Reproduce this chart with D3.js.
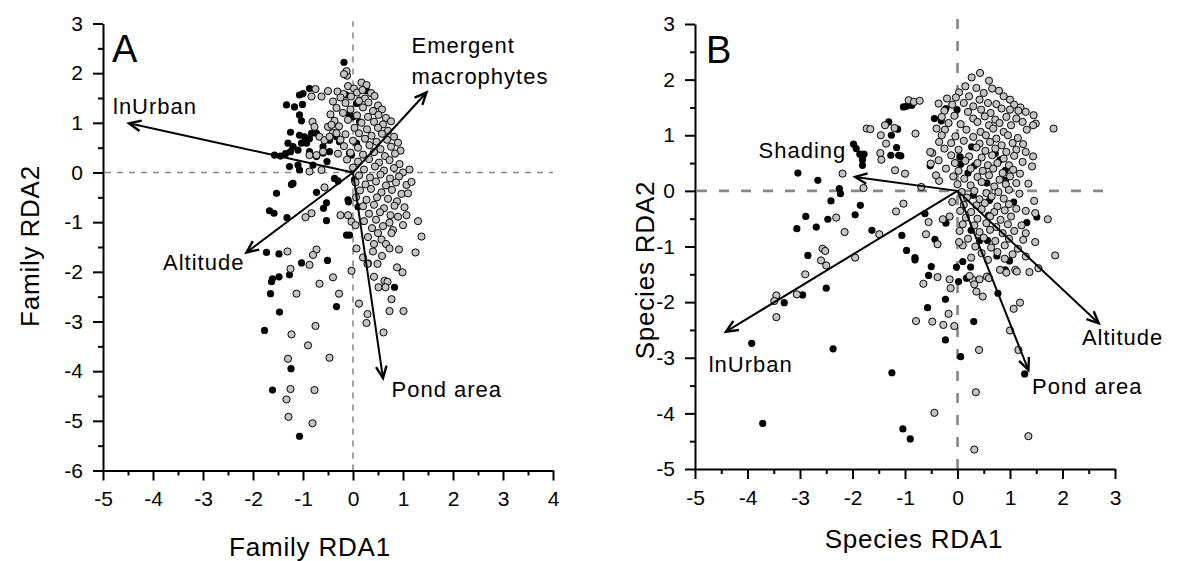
<!DOCTYPE html>
<html>
<head>
<meta charset="utf-8">
<script src="https://cdnjs.cloudflare.com/ajax/libs/d3/7.8.5/d3.min.js"></script>
<style>
  body { margin: 0; background: #fff; }
  svg text { font-family: 'Liberation Sans', Arial, sans-serif; fill: #000; }
</style>
</head>
<body>
<script>
// ---- panel A : family RDA scores ----
const famGray = [
  [-0.12,1.95],[0.17,1.81],[-0.13,2.04],[-0.18,1.98],
  [-0.1,1.74],[0.02,1.69],[0.27,1.76],[-0.31,1.63],[-0.19,1.58],[0.08,1.61],[0.19,1.66],[0.36,1.6],
  [-0.25,1.51],[-0.04,1.53],[0.24,1.49],[0.43,1.54],[-0.4,1.43],[-0.15,1.4],[0.12,1.44],[0.31,1.41],[0.5,1.35],
  [-0.33,1.3],[-0.05,1.27],[0.2,1.31],[0.4,1.24],[0.58,1.27],[-0.45,1.17],[-0.2,1.2],[0.08,1.15],[0.3,1.12],[0.51,1.16],[0.66,1.1],
  [-0.37,1.04],[-0.1,1.06],[0.17,1.0],[0.42,1.02],[0.6,0.97],[0.76,1.03],[-0.28,0.93],[0.03,0.9],[0.28,0.87],[0.5,0.9],[0.7,0.84],
  [-0.4,0.8],[-0.15,0.77],[0.12,0.79],[0.37,0.74],[0.58,0.78],[0.82,0.72],[-0.25,0.66],[0.0,0.64],[0.24,0.68],[0.47,0.62],[0.68,0.66],[0.9,0.6],
  [-0.18,0.53],[0.1,0.5],[0.33,0.55],[0.55,0.47],[0.76,0.52],[0.95,0.44],[-0.3,0.38],[-0.05,0.4],[0.2,0.36],[0.42,0.41],[0.64,0.33],[0.84,0.38],
  [-0.12,0.26],[0.1,0.22],[0.32,0.27],[0.52,0.2],[0.73,0.25],[0.93,0.17],[0.0,0.1],[0.22,0.06],[0.44,0.12],[0.62,0.04],[0.82,0.09],[1.13,0.06],[1.0,0.0],
  [0.12,-0.06],[0.34,-0.1],[0.55,-0.04],[0.74,-0.12],[0.92,-0.08],[0.05,-0.2],[0.25,-0.24],[0.46,-0.18],[0.66,-0.26],[0.86,-0.2],[1.07,-0.25],[1.17,-0.19],
  [0.14,-0.36],[0.36,-0.33],[0.57,-0.4],[0.78,-0.35],[0.97,-0.43],[1.1,-0.42],[0.06,-0.5],[0.27,-0.55],[0.48,-0.5],[0.7,-0.53],[0.88,-0.58],
  [0.2,-0.68],[0.42,-0.65],[0.62,-0.72],[0.83,-0.67],[1.03,-0.7],[0.32,-0.83],[0.54,-0.8],[0.75,-0.86],[1.07,-0.86],[0.9,-0.89],[1.3,-0.98],
  [0.22,-0.98],[0.46,-0.95],[0.73,-1.01],[1.0,-1.06],[0.38,-1.12],[0.6,-1.08],[0.8,-1.16],[0.5,-1.22],[0.77,-1.22],[1.37,-1.29],
  [0.3,-1.3],[0.57,-1.35],[0.42,-1.44],[0.66,-1.44],
  [-0.75,1.68],[-0.83,1.53],[-0.63,1.53],[-0.5,1.64],
  [-0.81,1.02],[-0.77,0.92],[-0.5,0.92],[-0.43,0.96],[-0.33,0.79],
  [-0.67,0.72],[-0.57,0.65],[-0.47,0.72],[-0.87,0.35],[-0.73,0.35],[-0.6,0.42],
  [-0.87,0.02],[-0.63,0.05],[-0.57,-0.3],
  [-0.95,-0.9],[-0.83,-0.82],[-0.25,-0.86],[-0.1,-0.86],[-0.03,-0.99],[0.05,-1.06],
  [-0.73,-1.55],[-0.8,-1.66],[-0.87,-1.86],[-1.31,-1.59],[-1.25,-1.94],[-0.03,-1.98],
  [0.07,-1.53],[0.2,-1.71],[0.3,-1.83],[0.4,-1.59],[0.58,-1.68],[0.73,-1.53],[0.92,-1.55],[1.25,-1.61],
  [0.29,-1.84],[0.49,-1.84],[0.42,-2.1],[0.51,-2.31],[0.63,-2.18],[0.69,-2.2],[0.65,-2.31],
  [0.88,-1.91],[0.99,-2.01],[0.77,-2.55],[0.73,-2.79],[1.01,-2.79],[0.12,-2.64],
  [0.29,-2.85],[0.27,-3.03],[0.61,-3.22],
  [-1.13,-2.44],[-0.67,-2.24],[-0.4,-2.11],[-0.28,-2.44],
  [-1.23,-3.26],[-0.75,-3.09],[-0.9,-3.48],[-1.3,-3.75],[-0.47,-3.73],
  [-1.25,-4.36],[-0.77,-4.38],[-1.33,-4.57],[-1.29,-4.92],[-0.81,-5.05]
];
const famBlack = [
  [-0.18,2.22],[-0.87,1.69],[-1.0,1.59],[-1.07,1.56],[-1.33,1.36],[-1.17,1.32],[-1.01,1.37],
  [-1.07,1.16],[-1.03,1.04],[-1.25,0.81],[-1.07,0.75],[-0.97,0.72],[-0.83,0.79],
  [-0.87,0.68],[-0.93,0.59],[-0.73,0.79],[-0.6,0.52],[-0.47,0.65],[-0.47,0.42],
  [-1.3,0.59],[-1.2,0.52],[-1.03,0.59],[-1.1,0.45],[-0.87,0.42],[-0.73,0.32],[-0.6,0.39],
  [-1.57,0.35],[-1.45,0.33],[-1.35,0.38],[-1.25,0.42],
  [-1.27,0.12],[-1.07,0.05],[-1.1,0.15],[-0.8,0.15],[-0.52,0.22],
  [-1.2,-0.22],[-0.37,-0.12],[-0.3,-0.17],
  [-0.13,1.56],[0.27,1.65],[0.13,1.46],[0.07,1.39],[0.0,1.12],[-0.07,1.16],[0.13,1.02],
  [-0.33,0.72],[-0.27,0.62],[-0.07,0.39],[-0.03,0.35],[0.07,0.59],[0.03,-0.15],
  [-0.1,-0.55],[0.1,-0.69],[-0.07,-1.26],[-0.13,-1.26],
  [-1.23,-0.24],[-1.53,-0.42],[-0.73,-0.4],[-0.53,-0.61],[-0.59,-0.72],[-1.67,-0.77],
  [-1.58,-0.82],[-1.32,-0.91],[-0.53,-0.97],[-0.09,-0.59],[-1.73,-1.61],[-1.48,-1.64],
  [-1.03,-1.82],[-0.51,-1.77],[-1.61,-2.14],[-1.63,-2.2],[-1.48,-2.1],[-1.27,-2.06],
  [-1.65,-2.44],[0.83,-2.31],[-1.47,-2.81],[-0.33,-2.7],[-1.77,-3.18],[-1.24,-3.95],
  [-1.61,-4.38],[-1.07,-5.31]
];
const famVars = ['lnUrban', 'Emergent macrophytes', 'Altitude', 'Pond area'];
const famArrows = [[-4.48,0.99],[1.47,1.61],[-2.13,-1.61],[0.6,-4.14]];

// ---- panel B : species RDA scores ----
const specGray = [
  [0.43,2.12],[0.27,2.04],[0.6,1.98],[0.15,1.88],[0.36,1.85],[0.66,1.84],[0.79,1.8],[0.03,1.77],[0.5,1.76],[0.88,1.7],
  [-0.2,1.66],[-0.03,1.68],[0.22,1.7],[0.42,1.64],[1.0,1.64],[-0.36,1.57],[-0.1,1.55],[0.12,1.58],[0.3,1.52],[0.58,1.58],[0.74,1.56],[1.08,1.55],[1.2,1.5],
  [-0.25,1.44],[0.2,1.42],[0.45,1.46],[0.63,1.4],[0.84,1.48],[1.0,1.46],[1.16,1.44],[1.3,1.42],
  [-0.3,1.33],[-0.06,1.35],[0.3,1.3],[0.52,1.34],[0.72,1.28],[0.93,1.33],[1.12,1.3],[1.45,1.36],
  [-0.17,1.22],[0.06,1.2],[0.38,1.24],[0.6,1.18],[0.8,1.22],[1.02,1.18],[1.24,1.24],[1.49,1.21],
  [-0.4,1.12],[-0.24,1.1],[0.17,1.1],[0.44,1.06],[0.68,1.12],[0.88,1.06],[1.32,1.1],[1.44,1.18],
  [-0.3,1.0],[-0.04,0.98],[0.3,0.97],[0.54,1.0],[0.74,0.94],[0.96,1.0],[1.15,0.95],
  [-0.35,0.88],[-0.12,0.86],[0.12,0.9],[0.42,0.85],[0.62,0.88],[0.84,0.82],[1.05,0.86],[1.25,0.84],
  [-0.25,0.76],[0.02,0.74],[0.36,0.78],[0.53,0.72],[0.72,0.76],[0.93,0.7],[1.12,0.74],[1.3,0.7],
  [-0.48,0.68],[-0.12,0.64],[0.22,0.62],[0.46,0.6],[0.66,0.64],[0.88,0.58],[1.08,0.63],[1.44,0.62],
  [-0.36,0.55],[-0.05,0.5],[0.15,0.54],[0.38,0.5],[0.58,0.46],[0.76,0.5],[0.98,0.46],[1.24,0.52],
  [-0.22,0.4],[0.02,0.36],[0.25,0.4],[0.48,0.36],[0.68,0.4],[0.86,0.32],[1.06,0.38],[1.42,0.44],
  [-0.08,0.26],[0.13,0.22],[0.38,0.25],[0.6,0.28],[0.8,0.2],[1.0,0.26],[1.19,0.31],
  [-0.35,0.18],[0.0,0.12],[0.25,0.1],[0.46,0.16],[0.7,0.08],[0.92,0.12],[1.12,0.14],[1.35,0.13],
  [0.08,-0.02],[0.32,0.0],[0.55,-0.04],[0.78,-0.02],[0.98,0.02],[1.18,-0.05],
  [0.18,-0.12],[0.42,-0.15],[0.65,-0.1],[0.88,-0.14],[1.46,-0.18],[-0.1,-0.2],[0.12,-0.25],[0.36,-0.26],[0.52,-0.22],[0.76,-0.28],[0.98,-0.24],
  [0.05,-0.36],[0.26,-0.38],[0.46,-0.33],[0.7,-0.38],[0.9,-0.35],[1.12,-0.32],[1.3,-0.36],
  [-0.15,-0.46],[0.16,-0.48],[0.38,-0.5],[0.62,-0.46],[0.82,-0.52],[1.02,-0.46],[1.48,-0.4],
  [0.1,-0.6],[0.32,-0.62],[0.55,-0.58],[0.74,-0.65],[0.96,-0.6],[1.22,-0.62],[1.72,-0.51],
  [0.04,-0.72],[0.42,-0.74],[0.62,-0.7],[0.86,-0.76],[1.08,-0.72],[1.3,-0.76],
  [0.2,-0.86],[0.5,-0.84],[0.72,-0.9],[0.98,-0.86],[1.25,-0.88],
  [0.1,-0.98],[0.34,-1.0],[0.64,-1.02],[0.9,-0.98],[1.15,-1.04],[1.48,-0.92],
  [0.46,-1.12],[0.76,-1.1],[1.05,-1.14],[0.26,-1.2],[0.58,-1.24],[0.9,-1.22],[1.3,-1.18],
  [-2.19,0.31],[-1.79,0.05],[-2.31,-0.48],[-2.15,-0.74],[-1.49,-0.78],[-2.57,-1.04],[-2.52,-1.08],
  [-2.6,-1.25],[-2.5,-1.34],[-1.95,-1.2],[-2.9,-1.5],[-1.17,-0.37],[-1.03,-0.23],[-0.69,0.07],
  [-0.55,-0.56],[-0.38,-0.96],[-0.28,-0.51],[-0.6,-0.78],[0.03,-0.92],
  [-1.73,1.12],[-1.66,1.11],[-1.47,0.68],[-1.45,0.56],[-1.46,1.0],[-1.36,0.85],[-1.2,1.13],
  [-1.38,1.18],[-1.19,0.37],[-1.0,0.31],[-0.8,1.03],[-0.93,1.63],[-0.83,1.6],[-0.72,1.62],
  [-0.52,0.7],[-0.51,0.49],[-0.41,0.28],[1.83,1.12],[1.86,-1.16],
  [-3.06,-1.86],[-3.45,-1.88],[-3.49,-1.98],[-3.45,-2.27],[-0.44,-3.99],[0.32,-4.65],
  [0.35,-3.62],[0.41,-2.86],[1.35,-4.41],[1.16,-2.86],[1.0,-2.51],[1.07,-2.12],[1.19,-2.01],
  [0.81,-1.42],[0.93,-1.47],[1.1,-1.42],[1.13,-1.45],[1.37,-1.46],[1.54,-1.39],
  [0.29,-1.6],[0.32,-1.68],[0.36,-1.81],[0.48,-1.9],[0.42,-1.59],[0.56,-1.54],[0.6,-1.57],
  [-0.15,-1.59],[-0.13,-1.75],[0.23,-1.53],[-0.65,-1.67],[-0.38,-1.55],
  [-0.17,-2.21],[-0.79,-2.34],[-0.48,-2.35],[-0.27,-2.41],[-0.06,-2.43]
];
const specBlack = [
  [-3.04,0.32],[-2.66,0.19],[-2.25,0.04],[-2.23,-0.05],[-2.41,-0.18],[-1.85,-0.26],
  [-1.95,-0.43],[-2.89,-0.46],[-2.47,-0.51],[-3.06,-0.68],[-2.69,-0.65],[-1.63,-0.71],
  [-2.85,-1.16],[-1.06,-0.8],[-0.97,-1.07],[-0.81,-1.2],[-0.62,-0.41],[-0.43,-0.87],
  [-0.22,-0.58],[-0.55,-1.52],[-0.5,-1.36],[-0.02,-1.37],[0.1,-1.27],[0.25,-1.37],[0.17,-1.57],
  [-1.98,0.84],[-1.93,0.76],[-1.86,0.66],[-1.81,0.56],[-1.78,0.66],[-1.81,0.46],
  [-1.31,1.24],[-1.26,1.0],[-1.14,1.11],[-1.16,0.78],[-1.27,0.64],[-1.12,0.64],[-1.08,0.63],
  [-1.03,1.51],[-0.97,1.52],[-0.87,1.54],
  [-0.52,0.45],[-0.44,1.3],[-0.31,1.26],[-0.22,1.48],[-0.01,1.46],
  [0.05,0.61],[0.06,0.48],[0.27,0.79],[0.32,0.45],[0.2,0.32],[0.56,0.14],[0.72,0.67],
  [0.81,0.56],[0.91,0.37],[0.91,0.19],[1.07,-0.2],[1.32,-0.57],[0.57,-0.89],[0.75,-1.17],
  [0.91,-1.44],[0.99,-1.26],[0.3,-0.08],[0.59,-0.44],[0.61,-0.17],[1.51,-0.47],[0.26,-0.71],[0.42,-0.89],
  [-2.5,-1.75],[-2.95,-1.87],[-3.3,-2.01],[-3.92,-2.74],[-2.37,-2.84],[-1.25,-3.27],
  [-3.71,-4.18],[-1.04,-4.28],[-0.9,-4.46],[0.06,-2.98],[1.28,-3.29],[0.77,-1.84],
  [0.91,-1.42],[0.31,-2.35],[0.02,-1.63],[-0.23,-1.95],[-0.57,-2.1],[-0.23,-2.68],[-0.81,-1.24]
];
const specVars = ['Shading', 'lnUrban', 'Pond area', 'Altitude'];
const specArrows = [[-1.95,0.25],[-4.41,-2.53],[1.35,-3.22],[2.69,-2.38]];

const xTicksA = [-5, -4, -3, -2, -1, 0, 1, 2, 3, 4];
const yTicksA = [-6, -5, -4, -3, -2, -1, 0, 1, 2, 3];
const xTicksB = [-5, -4, -3, -2, -1, 0, 1, 2, 3];
const yTicksB = [-5, -4, -3, -2, -1, 0, 1, 2, 3];

const svg = d3.select('body').append('svg').attr('width', 1200).attr('height', 561);

function drawPanel(p) {
  const x = d3.scaleLinear().domain(p.xDomain).range(p.xRange);
  const y = d3.scaleLinear().domain(p.yDomain).range(p.yRange);
  const g = svg.append('g');

  // reference lines through the origin
  g.append('line')
    .attr('x1', x(p.xDomain[0]) + 2).attr('x2', x(p.xDomain[1]))
    .attr('y1', y(0)).attr('y2', y(0))
    .attr('stroke', '#888').attr('stroke-width', p.dashW).attr('stroke-dasharray', p.dash);
  g.append('line')
    .attr('x1', x(0)).attr('x2', x(0))
    .attr('y1', y(p.yDomain[0])).attr('y2', y(p.yDomain[1]) - p.vExtra)
    .attr('stroke', '#888').attr('stroke-width', p.dashW).attr('stroke-dasharray', p.dash);

  // sites
  g.selectAll('.blk').data(p.black).enter().append('circle')
    .attr('cx', (d) => x(d[0])).attr('cy', (d) => y(d[1])).attr('r', 3.6)
    .attr('fill', '#000');
  g.selectAll('.gry').data(p.gray).enter().append('circle')
    .attr('cx', (d) => x(d[0])).attr('cy', (d) => y(d[1])).attr('r', 3.6)
    .attr('fill', '#c4c4c4').attr('stroke', '#000').attr('stroke-width', 1);

  // environmental vectors
  p.arrows.forEach((a, i) => {
    const x0 = x(0), y0 = y(0), x1 = x(a[0]), y1 = y(a[1]);
    const ang = Math.atan2(y1 - y0, x1 - x0);
    const len = 13, spread = 0.42;
    g.append('line').attr('x1', x0).attr('y1', y0).attr('x2', x1).attr('y2', y1)
      .attr('stroke', '#000').attr('stroke-width', 2);
    const hx1 = x1 - len * Math.cos(ang - spread), hy1 = y1 - len * Math.sin(ang - spread);
    const hx2 = x1 - len * Math.cos(ang + spread), hy2 = y1 - len * Math.sin(ang + spread);
    g.append('path')
      .attr('d', `M${hx1},${hy1}L${x1},${y1}L${hx2},${hy2}`)
      .attr('fill', 'none').attr('stroke', '#000').attr('stroke-width', 2.4);
    const lp = p.labelPos[i];
    lp.lines.forEach((t, k) => {
      g.append('text').attr('x', x(lp.x)).attr('y', y(lp.y) + k * 31)
        .attr('font-size', 22).attr('letter-spacing', 1).text(t);
    });
  });

  // axes
  const fmt = (d) => String(d);
  const xAx = g.append('g').attr('transform', `translate(0,${p.yRange[0]})`)
    .call(d3.axisBottom(x).tickValues(p.xTicks).tickSize(10).tickSizeOuter(0).tickPadding(11).tickFormat(fmt));
  g.append('g').attr('transform', `translate(0,${p.yRange[0]})`)
    .call(d3.axisBottom(x).tickValues(p.xTicks.slice(1).map((v) => v - 0.5)).tickSize(5).tickFormat(''))
    .select('.domain').remove();
  const yAx = g.append('g').attr('transform', `translate(${p.xRange[0]},0)`)
    .call(d3.axisLeft(y).tickValues(p.yTicks).tickSize(10).tickSizeOuter(0).tickPadding(10).tickFormat(fmt));
  g.append('g').attr('transform', `translate(${p.xRange[0]},0)`)
    .call(d3.axisLeft(y).tickValues(p.yTicks.slice(1).map((v) => v - 0.5)).tickSize(5).tickFormat(''))
    .select('.domain').remove();
  g.selectAll('.domain, .tick line').attr('stroke', '#000').attr('stroke-width', 2);
  [xAx, yAx].forEach((ax) => ax.selectAll('text')
    .attr('font-size', 21).style('font-family', "'Liberation Sans', Arial, sans-serif").attr('fill', '#000'));

  // titles
  g.append('text').attr('x', p.xTitle[0]).attr('y', p.xTitle[1]).attr('text-anchor', 'middle')
    .attr('font-size', 26).attr('letter-spacing', 0.8).text(p.xLabel);
  g.append('text').attr('transform', `translate(${p.yTitle[0]},${p.yTitle[1]}) rotate(-90)`)
    .attr('text-anchor', 'middle').attr('font-size', 26).attr('letter-spacing', 0.8).text(p.yLabel);
  g.append('text').attr('x', p.tag[0]).attr('y', p.tag[1]).attr('font-size', 38).text(p.tagText);
}

drawPanel({
  xDomain: [-5, 4], yDomain: [-6, 3], xRange: [103, 553], yRange: [470.5, 23.5],
  xTicks: xTicksA, yTicks: yTicksA, gray: famGray, black: famBlack,
  arrows: famArrows, vars: famVars,
  labelPos: [
    { x: -4.8, y: 1.17, lines: ['lnUrban'] },
    { x: 1.17, y: 2.4, lines: ['Emergent', 'macrophytes'] },
    { x: -3.8, y: -1.96, lines: ['Altitude'] },
    { x: 0.77, y: -4.52, lines: ['Pond area'] }
  ],
  dash: '6,6', dashW: 1.6, vExtra: 2,
  xLabel: 'Family RDA1', yLabel: 'Family RDA2', xTitle: [310, 556], yTitle: [39, 246],
  tag: [112, 62], tagText: 'A'
});

drawPanel({
  xDomain: [-5, 3], yDomain: [-5, 3], xRange: [695, 1115], yRange: [469, 24],
  xTicks: xTicksB, yTicks: yTicksB, gray: specGray, black: specBlack,
  arrows: specArrows, vars: specVars,
  labelPos: [
    { x: -3.79, y: 0.6, lines: ['Shading'] },
    { x: -4.74, y: -3.25, lines: ['lnUrban'] },
    { x: 1.42, y: -3.66, lines: ['Pond area'] },
    { x: 2.37, y: -2.77, lines: ['Altitude'] }
  ],
  dash: '10,12', dashW: 2.6, vExtra: 10,
  xLabel: 'Species RDA1', yLabel: 'Species RDA2', xTitle: [914, 548], yTitle: [654, 270],
  tag: [706, 63], tagText: 'B'
});
</script>
</body>
</html>
